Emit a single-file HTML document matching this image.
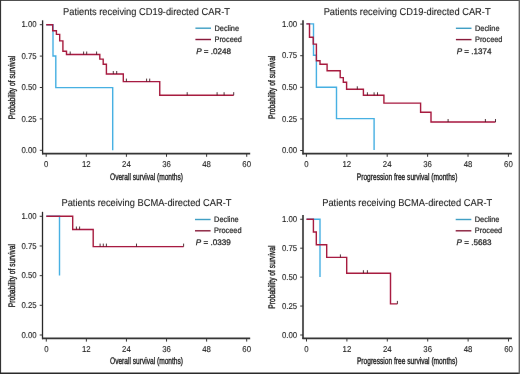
<!DOCTYPE html>
<html><head><meta charset="utf-8"><style>
html,body{margin:0;padding:0;background:#fff;}
body{width:520px;height:374px;overflow:hidden;}
svg{display:block;}
text{text-rendering:geometricPrecision;font-family:"Liberation Sans", sans-serif;fill:#1a1a1a;stroke:#1a1a1a;stroke-width:0.3px;}
svg{will-change:transform;}
.tk{font-size:8.5px;stroke-width:0.1px;}
.ti{font-size:10px;stroke-width:0.1px;}
.al{font-size:9.5px;stroke-width:0.35px;}
.lg{font-size:8px;stroke-width:0.2px;}
.pv{font-size:8.1px;stroke-width:0.25px;}
</style></head><body>
<svg width="520" height="374" viewBox="0 0 520 374">
<defs><filter id="bl" x="-5%" y="-5%" width="110%" height="110%"><feConvolveMatrix order="3" kernelMatrix="0.00027 0.01580 0.00027 0.01580 0.93575 0.01580 0.00027 0.01580 0.00027" divisor="1" preserveAlpha="false" edgeMode="none"/></filter></defs>
<rect x="0" y="0" width="520" height="374" fill="#fff"/>
<g filter="url(#bl)">
<line x1="42.6" y1="20.3" x2="42.6" y2="154.4" stroke="#222" stroke-width="1.3"/>
<line x1="42.1" y1="153.6" x2="250.2" y2="153.6" stroke="#333" stroke-width="1.7"/>
<line x1="39.8" y1="24.7" x2="42.6" y2="24.7" stroke="#333" stroke-width="1"/>
<text transform="translate(36.7,27.4) scale(0.92,1)" text-anchor="end" class="tk">1.00</text>
<line x1="39.8" y1="56.1" x2="42.6" y2="56.1" stroke="#333" stroke-width="1"/>
<text transform="translate(36.7,58.8) scale(0.92,1)" text-anchor="end" class="tk">0.75</text>
<line x1="39.8" y1="87.5" x2="42.6" y2="87.5" stroke="#333" stroke-width="1"/>
<text transform="translate(36.7,90.2) scale(0.92,1)" text-anchor="end" class="tk">0.50</text>
<line x1="39.8" y1="118.9" x2="42.6" y2="118.9" stroke="#333" stroke-width="1"/>
<text transform="translate(36.7,121.6) scale(0.92,1)" text-anchor="end" class="tk">0.25</text>
<line x1="39.8" y1="150.3" x2="42.6" y2="150.3" stroke="#333" stroke-width="1"/>
<text transform="translate(36.7,153) scale(0.92,1)" text-anchor="end" class="tk">0.00</text>
<line x1="46.2" y1="153.6" x2="46.2" y2="156.8" stroke="#333" stroke-width="1"/>
<text transform="translate(46.2,166.8) scale(0.92,1)" text-anchor="middle" class="tk">0</text>
<line x1="86.3" y1="153.6" x2="86.3" y2="156.8" stroke="#333" stroke-width="1"/>
<text transform="translate(86.3,166.8) scale(0.92,1)" text-anchor="middle" class="tk">12</text>
<line x1="126.41" y1="153.6" x2="126.41" y2="156.8" stroke="#333" stroke-width="1"/>
<text transform="translate(126.41,166.8) scale(0.92,1)" text-anchor="middle" class="tk">24</text>
<line x1="166.51" y1="153.6" x2="166.51" y2="156.8" stroke="#333" stroke-width="1"/>
<text transform="translate(166.51,166.8) scale(0.92,1)" text-anchor="middle" class="tk">36</text>
<line x1="206.62" y1="153.6" x2="206.62" y2="156.8" stroke="#333" stroke-width="1"/>
<text transform="translate(206.62,166.8) scale(0.92,1)" text-anchor="middle" class="tk">48</text>
<line x1="246.72" y1="153.6" x2="246.72" y2="156.8" stroke="#333" stroke-width="1"/>
<text transform="translate(246.72,166.8) scale(0.92,1)" text-anchor="middle" class="tk">60</text>
<text transform="translate(146.5,14.8) scale(0.93,1)" text-anchor="middle" class="ti">Patients receiving CD19-directed CAR-T</text>
<text transform="translate(146.5,180.2) scale(0.695,1)" text-anchor="middle" class="al">Overall survival (months)</text>
<text transform="translate(15.2,87.5) rotate(-90) scale(0.705,1)" text-anchor="middle" class="al">Probability of survival</text>
<line x1="195.4" y1="28.2" x2="211" y2="28.2" stroke="#3a9cc2" stroke-width="1.4"/>
<text transform="translate(214.5,30.65) scale(0.92,1)" class="lg">Decline</text>
<line x1="195.4" y1="39.5" x2="211" y2="39.5" stroke="#861636" stroke-width="1.4"/>
<text transform="translate(214.5,42.05) scale(0.92,1)" class="lg">Proceed</text>
<text transform="translate(196.2,53.7) scale(1,1)" class="pv"><tspan font-style="italic">P</tspan> = .0248</text>
<polyline points="46.2,24.7 53,24.7 53,56 55.8,56 55.8,87.6 112.7,87.6 112.7,150.3" fill="none" stroke="#42aee2" stroke-width="1.4" stroke-linejoin="miter" stroke-linecap="butt"/>
<polyline points="46.2,24.7 52.7,24.7 52.7,30.8 56.4,30.8 56.4,34.4 59.7,34.4 59.7,40.9 62.9,40.9 62.9,51.2 66.5,51.2 66.5,54.5 99.8,54.5 99.8,59.1 103.2,59.1 103.2,64.2 106.4,64.2 106.4,74 123.3,74 123.3,81.6 159.75,81.6 159.75,95.2 233.7,95.2" fill="none" stroke="#a5163a" stroke-width="1.4" stroke-linejoin="miter" stroke-linecap="butt"/>
<line x1="70.2" y1="51.5" x2="70.2" y2="54.5" stroke="#3a1a22" stroke-width="0.9"/>
<line x1="83.6" y1="51.5" x2="83.6" y2="54.5" stroke="#3a1a22" stroke-width="0.9"/>
<line x1="86.7" y1="51.5" x2="86.7" y2="54.5" stroke="#3a1a22" stroke-width="0.9"/>
<line x1="96.6" y1="51.5" x2="96.6" y2="54.5" stroke="#3a1a22" stroke-width="0.9"/>
<line x1="113.3" y1="71" x2="113.3" y2="74" stroke="#3a1a22" stroke-width="0.9"/>
<line x1="116.7" y1="71" x2="116.7" y2="74" stroke="#3a1a22" stroke-width="0.9"/>
<line x1="126.4" y1="78.6" x2="126.4" y2="81.6" stroke="#3a1a22" stroke-width="0.9"/>
<line x1="146.6" y1="78.6" x2="146.6" y2="81.6" stroke="#3a1a22" stroke-width="0.9"/>
<line x1="149.7" y1="78.6" x2="149.7" y2="81.6" stroke="#3a1a22" stroke-width="0.9"/>
<line x1="187.2" y1="92.2" x2="187.2" y2="95.2" stroke="#3a1a22" stroke-width="0.9"/>
<line x1="217.1" y1="92.2" x2="217.1" y2="95.2" stroke="#3a1a22" stroke-width="0.9"/>
<line x1="224.1" y1="92.2" x2="224.1" y2="95.2" stroke="#3a1a22" stroke-width="0.9"/>
<line x1="233.7" y1="92.2" x2="233.7" y2="95.2" stroke="#3a1a22" stroke-width="0.9"/>
<line x1="303" y1="20.3" x2="303" y2="154.4" stroke="#3a3a3a" stroke-width="1.7"/>
<line x1="302.5" y1="153.6" x2="511.9" y2="153.6" stroke="#333" stroke-width="1.7"/>
<line x1="300.2" y1="24.1" x2="303" y2="24.1" stroke="#333" stroke-width="1"/>
<text transform="translate(297.1,26.8) scale(0.92,1)" text-anchor="end" class="tk">1.00</text>
<line x1="300.2" y1="55.7" x2="303" y2="55.7" stroke="#333" stroke-width="1"/>
<text transform="translate(297.1,58.4) scale(0.92,1)" text-anchor="end" class="tk">0.75</text>
<line x1="300.2" y1="87.3" x2="303" y2="87.3" stroke="#333" stroke-width="1"/>
<text transform="translate(297.1,90) scale(0.92,1)" text-anchor="end" class="tk">0.50</text>
<line x1="300.2" y1="118.9" x2="303" y2="118.9" stroke="#333" stroke-width="1"/>
<text transform="translate(297.1,121.6) scale(0.92,1)" text-anchor="end" class="tk">0.25</text>
<line x1="300.2" y1="150.5" x2="303" y2="150.5" stroke="#333" stroke-width="1"/>
<text transform="translate(297.1,153.2) scale(0.92,1)" text-anchor="end" class="tk">0.00</text>
<line x1="306.4" y1="153.6" x2="306.4" y2="156.8" stroke="#333" stroke-width="1"/>
<text transform="translate(306.4,166.8) scale(0.92,1)" text-anchor="middle" class="tk">0</text>
<line x1="346.8" y1="153.6" x2="346.8" y2="156.8" stroke="#333" stroke-width="1"/>
<text transform="translate(346.8,166.8) scale(0.92,1)" text-anchor="middle" class="tk">12</text>
<line x1="387.21" y1="153.6" x2="387.21" y2="156.8" stroke="#333" stroke-width="1"/>
<text transform="translate(387.21,166.8) scale(0.92,1)" text-anchor="middle" class="tk">24</text>
<line x1="427.61" y1="153.6" x2="427.61" y2="156.8" stroke="#333" stroke-width="1"/>
<text transform="translate(427.61,166.8) scale(0.92,1)" text-anchor="middle" class="tk">36</text>
<line x1="468.02" y1="153.6" x2="468.02" y2="156.8" stroke="#333" stroke-width="1"/>
<text transform="translate(468.02,166.8) scale(0.92,1)" text-anchor="middle" class="tk">48</text>
<line x1="508.42" y1="153.6" x2="508.42" y2="156.8" stroke="#333" stroke-width="1"/>
<text transform="translate(508.42,166.8) scale(0.92,1)" text-anchor="middle" class="tk">60</text>
<text transform="translate(407.1,14.8) scale(0.93,1)" text-anchor="middle" class="ti">Patients receiving CD19-directed CAR-T</text>
<text transform="translate(407.1,180.2) scale(0.695,1)" text-anchor="middle" class="al">Progression free survival (months)</text>
<text transform="translate(275.1,87.3) rotate(-90) scale(0.705,1)" text-anchor="middle" class="al">Probability of survival</text>
<line x1="455.9" y1="28.3" x2="471.5" y2="28.3" stroke="#3a9cc2" stroke-width="1.4"/>
<text transform="translate(475,30.75) scale(0.92,1)" class="lg">Decline</text>
<line x1="455.9" y1="39.6" x2="471.5" y2="39.6" stroke="#861636" stroke-width="1.4"/>
<text transform="translate(475,42.15) scale(0.92,1)" class="lg">Proceed</text>
<text transform="translate(456.7,53.8) scale(1,1)" class="pv"><tspan font-style="italic">P</tspan> = .1374</text>
<polyline points="306.4,23.9 313.5,23.9 313.5,55.2 316.4,55.2 316.4,87.3 336.5,87.3 336.5,118.6 374.1,118.6 374.1,150" fill="none" stroke="#42aee2" stroke-width="1.4" stroke-linejoin="miter" stroke-linecap="butt"/>
<polyline points="306.4,23.9 309.5,23.9 309.5,37.2 313.2,37.2 313.2,44.1 316.4,44.1 316.4,60.7 320,60.7 320,64.2 327.1,64.2 327.1,70.7 340.2,70.7 340.2,77.6 343.3,77.6 343.3,82.3 346.6,82.3 346.6,89.3 363.4,89.3 363.4,95.3 383.9,95.3 383.9,103.1 420.6,103.1 420.6,112.3 431,112.3 431,122 495.5,122" fill="none" stroke="#a5163a" stroke-width="1.4" stroke-linejoin="miter" stroke-linecap="butt"/>
<line x1="357.3" y1="86.3" x2="357.3" y2="89.3" stroke="#3a1a22" stroke-width="0.9"/>
<line x1="367.4" y1="92.3" x2="367.4" y2="95.3" stroke="#3a1a22" stroke-width="0.9"/>
<line x1="374.1" y1="92.3" x2="374.1" y2="95.3" stroke="#3a1a22" stroke-width="0.9"/>
<line x1="377.5" y1="92.3" x2="377.5" y2="95.3" stroke="#3a1a22" stroke-width="0.9"/>
<line x1="448.1" y1="119" x2="448.1" y2="122" stroke="#3a1a22" stroke-width="0.9"/>
<line x1="485.4" y1="119" x2="485.4" y2="122" stroke="#3a1a22" stroke-width="0.9"/>
<line x1="495.5" y1="119" x2="495.5" y2="122" stroke="#3a1a22" stroke-width="0.9"/>
<line x1="42.5" y1="211.8" x2="42.5" y2="339.2" stroke="#222" stroke-width="1.3"/>
<line x1="42" y1="338.4" x2="250.2" y2="338.4" stroke="#333" stroke-width="1.7"/>
<line x1="39.7" y1="216.3" x2="42.5" y2="216.3" stroke="#333" stroke-width="1"/>
<text transform="translate(36.6,219) scale(0.92,1)" text-anchor="end" class="tk">1.00</text>
<line x1="39.7" y1="245.98" x2="42.5" y2="245.98" stroke="#333" stroke-width="1"/>
<text transform="translate(36.6,248.68) scale(0.92,1)" text-anchor="end" class="tk">0.75</text>
<line x1="39.7" y1="275.65" x2="42.5" y2="275.65" stroke="#333" stroke-width="1"/>
<text transform="translate(36.6,278.35) scale(0.92,1)" text-anchor="end" class="tk">0.50</text>
<line x1="39.7" y1="305.32" x2="42.5" y2="305.32" stroke="#333" stroke-width="1"/>
<text transform="translate(36.6,308.02) scale(0.92,1)" text-anchor="end" class="tk">0.25</text>
<line x1="39.7" y1="335" x2="42.5" y2="335" stroke="#333" stroke-width="1"/>
<text transform="translate(36.6,337.7) scale(0.92,1)" text-anchor="end" class="tk">0.00</text>
<line x1="46.3" y1="338.4" x2="46.3" y2="341.6" stroke="#333" stroke-width="1"/>
<text transform="translate(46.3,351.6) scale(0.92,1)" text-anchor="middle" class="tk">0</text>
<line x1="86.38" y1="338.4" x2="86.38" y2="341.6" stroke="#333" stroke-width="1"/>
<text transform="translate(86.38,351.6) scale(0.92,1)" text-anchor="middle" class="tk">12</text>
<line x1="126.46" y1="338.4" x2="126.46" y2="341.6" stroke="#333" stroke-width="1"/>
<text transform="translate(126.46,351.6) scale(0.92,1)" text-anchor="middle" class="tk">24</text>
<line x1="166.54" y1="338.4" x2="166.54" y2="341.6" stroke="#333" stroke-width="1"/>
<text transform="translate(166.54,351.6) scale(0.92,1)" text-anchor="middle" class="tk">36</text>
<line x1="206.62" y1="338.4" x2="206.62" y2="341.6" stroke="#333" stroke-width="1"/>
<text transform="translate(206.62,351.6) scale(0.92,1)" text-anchor="middle" class="tk">48</text>
<line x1="246.7" y1="338.4" x2="246.7" y2="341.6" stroke="#333" stroke-width="1"/>
<text transform="translate(246.7,351.6) scale(0.92,1)" text-anchor="middle" class="tk">60</text>
<text transform="translate(146.5,206.1) scale(0.93,1)" text-anchor="middle" class="ti">Patients receiving BCMA-directed CAR-T</text>
<text transform="translate(146.5,364.3) scale(0.695,1)" text-anchor="middle" class="al">Overall survival (months)</text>
<text transform="translate(15.2,275.65) rotate(-90) scale(0.705,1)" text-anchor="middle" class="al">Probability of survival</text>
<line x1="195" y1="219.5" x2="210.6" y2="219.5" stroke="#3a9cc2" stroke-width="1.4"/>
<text transform="translate(214.1,221.95) scale(0.92,1)" class="lg">Decline</text>
<line x1="195" y1="230.8" x2="210.6" y2="230.8" stroke="#861636" stroke-width="1.4"/>
<text transform="translate(214.1,233.35) scale(0.92,1)" class="lg">Proceed</text>
<text transform="translate(195.8,245) scale(1,1)" class="pv"><tspan font-style="italic">P</tspan> = .0339</text>
<polyline points="46.3,216.3 59.5,216.3 59.5,275.6" fill="none" stroke="#42aee2" stroke-width="1.4" stroke-linejoin="miter" stroke-linecap="butt"/>
<polyline points="46.3,216.3 72.7,216.3 72.7,229.5 93.2,229.5 93.2,246.6 183.6,246.6" fill="none" stroke="#a5163a" stroke-width="1.4" stroke-linejoin="miter" stroke-linecap="butt"/>
<line x1="76.4" y1="226.5" x2="76.4" y2="229.5" stroke="#3a1a22" stroke-width="0.9"/>
<line x1="79.6" y1="226.5" x2="79.6" y2="229.5" stroke="#3a1a22" stroke-width="0.9"/>
<line x1="100.1" y1="243.6" x2="100.1" y2="246.6" stroke="#3a1a22" stroke-width="0.9"/>
<line x1="103.3" y1="243.6" x2="103.3" y2="246.6" stroke="#3a1a22" stroke-width="0.9"/>
<line x1="106.4" y1="243.6" x2="106.4" y2="246.6" stroke="#3a1a22" stroke-width="0.9"/>
<line x1="136.5" y1="243.6" x2="136.5" y2="246.6" stroke="#3a1a22" stroke-width="0.9"/>
<line x1="183.6" y1="243.6" x2="183.6" y2="246.6" stroke="#3a1a22" stroke-width="0.9"/>
<line x1="303" y1="215" x2="303" y2="339.1" stroke="#3a3a3a" stroke-width="1.7"/>
<line x1="302.5" y1="338.3" x2="511.9" y2="338.3" stroke="#333" stroke-width="1.7"/>
<line x1="300.2" y1="219.25" x2="303" y2="219.25" stroke="#333" stroke-width="1"/>
<text transform="translate(297.1,221.95) scale(0.92,1)" text-anchor="end" class="tk">1.00</text>
<line x1="300.2" y1="248.19" x2="303" y2="248.19" stroke="#333" stroke-width="1"/>
<text transform="translate(297.1,250.89) scale(0.92,1)" text-anchor="end" class="tk">0.75</text>
<line x1="300.2" y1="277.12" x2="303" y2="277.12" stroke="#333" stroke-width="1"/>
<text transform="translate(297.1,279.82) scale(0.92,1)" text-anchor="end" class="tk">0.50</text>
<line x1="300.2" y1="306.06" x2="303" y2="306.06" stroke="#333" stroke-width="1"/>
<text transform="translate(297.1,308.76) scale(0.92,1)" text-anchor="end" class="tk">0.25</text>
<line x1="300.2" y1="335" x2="303" y2="335" stroke="#333" stroke-width="1"/>
<text transform="translate(297.1,337.7) scale(0.92,1)" text-anchor="end" class="tk">0.00</text>
<line x1="306.5" y1="338.3" x2="306.5" y2="341.5" stroke="#333" stroke-width="1"/>
<text transform="translate(306.5,351.6) scale(0.92,1)" text-anchor="middle" class="tk">0</text>
<line x1="346.9" y1="338.3" x2="346.9" y2="341.5" stroke="#333" stroke-width="1"/>
<text transform="translate(346.9,351.6) scale(0.92,1)" text-anchor="middle" class="tk">12</text>
<line x1="387.31" y1="338.3" x2="387.31" y2="341.5" stroke="#333" stroke-width="1"/>
<text transform="translate(387.31,351.6) scale(0.92,1)" text-anchor="middle" class="tk">24</text>
<line x1="427.71" y1="338.3" x2="427.71" y2="341.5" stroke="#333" stroke-width="1"/>
<text transform="translate(427.71,351.6) scale(0.92,1)" text-anchor="middle" class="tk">36</text>
<line x1="468.12" y1="338.3" x2="468.12" y2="341.5" stroke="#333" stroke-width="1"/>
<text transform="translate(468.12,351.6) scale(0.92,1)" text-anchor="middle" class="tk">48</text>
<line x1="508.52" y1="338.3" x2="508.52" y2="341.5" stroke="#333" stroke-width="1"/>
<text transform="translate(508.52,351.6) scale(0.92,1)" text-anchor="middle" class="tk">60</text>
<text transform="translate(407.2,206.1) scale(0.93,1)" text-anchor="middle" class="ti">Patients receiving BCMA-directed CAR-T</text>
<text transform="translate(407.2,364.3) scale(0.695,1)" text-anchor="middle" class="al">Progression free survival (months)</text>
<text transform="translate(275.1,277.12) rotate(-90) scale(0.705,1)" text-anchor="middle" class="al">Probability of survival</text>
<line x1="455.7" y1="219.5" x2="471.3" y2="219.5" stroke="#3a9cc2" stroke-width="1.4"/>
<text transform="translate(474.8,221.95) scale(0.92,1)" class="lg">Decline</text>
<line x1="455.7" y1="230.8" x2="471.3" y2="230.8" stroke="#861636" stroke-width="1.4"/>
<text transform="translate(474.8,233.35) scale(0.92,1)" class="lg">Proceed</text>
<text transform="translate(456.5,245) scale(1,1)" class="pv"><tspan font-style="italic">P</tspan> = .5683</text>
<polyline points="306.5,219.25 320,219.25 320,277.1" fill="none" stroke="#42aee2" stroke-width="1.4" stroke-linejoin="miter" stroke-linecap="butt"/>
<polyline points="306.5,219.25 313.4,219.25 313.4,232 316.3,232 316.3,244.8 326.7,244.8 326.7,257.4 346.7,257.4 346.7,273.2 390.5,273.2 390.5,303.9 397.4,303.9" fill="none" stroke="#a5163a" stroke-width="1.4" stroke-linejoin="miter" stroke-linecap="butt"/>
<line x1="340.4" y1="254.4" x2="340.4" y2="257.4" stroke="#3a1a22" stroke-width="0.9"/>
<line x1="363.4" y1="270.2" x2="363.4" y2="273.2" stroke="#3a1a22" stroke-width="0.9"/>
<line x1="367.4" y1="270.2" x2="367.4" y2="273.2" stroke="#3a1a22" stroke-width="0.9"/>
<line x1="397.4" y1="300.9" x2="397.4" y2="303.9" stroke="#3a1a22" stroke-width="0.9"/>
</g>
<rect x="0" y="0" width="520" height="1" fill="#505050"/>
<rect x="0" y="0" width="1.1" height="374" fill="#333"/>
<rect x="0" y="372.5" width="520" height="1.5" fill="#2a2a2a"/>
<rect x="518.6" y="0" width="1.4" height="374" fill="#666"/>
</svg>
</body></html>
